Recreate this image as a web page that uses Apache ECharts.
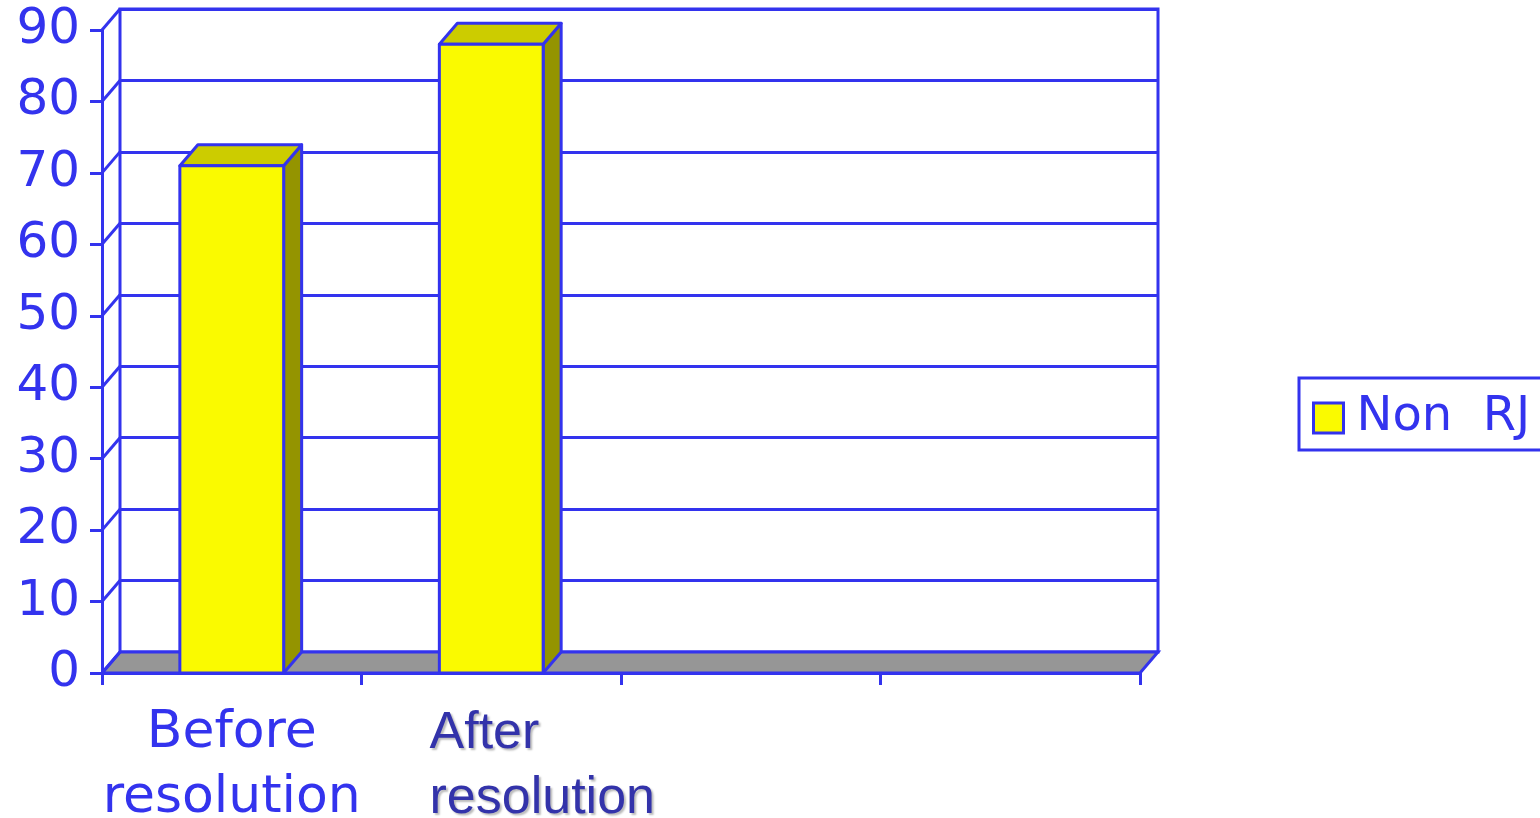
<!DOCTYPE html>
<html>
<head>
<meta charset="utf-8">
<script src="https://cdn.jsdelivr.net/npm/echarts@6/dist/echarts.min.js"></script>
<style>
html, body { margin: 0; padding: 0; background: #fff; }
#chart { width: 1540px; height: 818px; }
</style>
</head>
<body>
<div id="chart"></div>
<script>
// chart data
const categories = ['Before\nresolution', 'After\nresolution', '', ''];
const nonRJ = [71, 88];
const yTicks = [0, 10, 20, 30, 40, 50, 60, 70, 80, 90];
const seriesName = 'Non  RJ';

const BLUE = '#3333ee';
const LW = 3;
const DX = 18, DY = -21; // depth of the fake 3d box

const chart = echarts.init(document.getElementById('chart'));

function renderWall(params, api) {
    const cs = params.coordSys;
    const v = api.value(1);
    const y = api.coord([0, v])[1];
    const children = [];
    if (v === 0) {
        children.push({
            type: 'polygon',
            shape: { points: [[cs.x, y], [cs.x + cs.width, y], [cs.x + cs.width + DX, y + DY], [cs.x + DX, y + DY]] },
            style: { fill: '#969696', stroke: BLUE, lineWidth: LW }
        });
    }
    children.push({
        type: 'line',
        shape: { x1: cs.x, y1: y, x2: cs.x + DX, y2: y + DY },
        style: { stroke: BLUE, lineWidth: LW }
    });
    return { type: 'group', children: children };
}

function renderBar(params, api) {
    const i = api.value(0);
    const top = api.coord([i, api.value(1)]);
    const base = api.coord([i, 0]);
    const w = api.size([1, 0])[0] * 0.4;
    const x0 = top[0] - w / 2, x1 = top[0] + w / 2;
    const yt = top[1], yb = base[1];
    const st = { stroke: BLUE, lineWidth: LW, lineJoin: 'round' };
    return {
        type: 'group',
        children: [
            { type: 'polygon', shape: { points: [[x1, yt], [x1 + DX, yt + DY], [x1 + DX, yb + DY], [x1, yb]] },
              style: Object.assign({ fill: '#949400' }, st) },
            { type: 'polygon', shape: { points: [[x0, yt], [x0 + DX, yt + DY], [x1 + DX, yt + DY], [x1, yt]] },
              style: Object.assign({ fill: '#cccc00' }, st) },
            { type: 'rect', shape: { x: x0, y: yt, width: w, height: yb - yt },
              style: Object.assign({ fill: '#fafa00' }, st) }
        ]
    };
}

const option = {
    animation: false,
    backgroundColor: '#fff',
    grid: [
        { left: 102, top: 30, width: 1038, height: 643, outerBoundsMode: 'none', containLabel: false },
        { left: 102 + DX, top: 30 + DY, width: 1038, height: 643, outerBoundsMode: 'none', containLabel: false,
          show: true, borderColor: BLUE, borderWidth: LW, backgroundColor: 'transparent' }
    ],
    xAxis: [
        {
            type: 'category', gridIndex: 0, data: categories,
            axisLine: { lineStyle: { color: BLUE, width: LW } },
            axisTick: { show: true, length: 12, lineStyle: { color: BLUE, width: LW } },
            axisLabel: {
                margin: 28, interval: 0,
                formatter: function (val, idx) {
                    if (!val) return '';
                    const lines = val.split('\n');
                    const key = idx === 1 ? 'b' : 'a';
                    return lines.map(function (l) { return '{' + key + '|' + l + '}'; }).join('\n');
                },
                rich: {
                    a: { fontFamily: 'DejaVu Sans', fontSize: 52, color: BLUE, lineHeight: 65 },
                    b: { fontFamily: 'Liberation Sans', fontSize: 52, color: '#3333aa', lineHeight: 65, align: 'left',
                         padding: [0, 0, 0, 102], textShadowColor: '#bbbbbb', textShadowOffsetX: 2, textShadowOffsetY: 2, textShadowBlur: 2 }
                }
            }
        },
        { type: 'category', gridIndex: 1, data: categories, show: false }
    ],
    yAxis: [
        {
            type: 'value', gridIndex: 0, min: 0, max: 90, interval: 10,
            axisLine: { show: true, lineStyle: { color: BLUE, width: LW } },
            axisTick: { show: true, length: 12, lineStyle: { color: BLUE, width: LW } },
            axisLabel: { margin: 22, fontFamily: 'DejaVu Sans', fontSize: 50, color: BLUE },
            splitLine: { show: false }
        },
        {
            type: 'value', gridIndex: 1, min: 0, max: 90, interval: 10,
            axisLine: { show: false }, axisTick: { show: false }, axisLabel: { show: false },
            splitLine: { show: true, lineStyle: { color: BLUE, width: LW } }
        }
    ],
    legend: {
        data: [seriesName],
        left: 1299, top: 378,
        padding: [16, 20, 8, 13],
        borderColor: BLUE, borderWidth: LW,
        icon: 'rect', itemWidth: 30, itemHeight: 30, itemGap: 10,
        itemStyle: { color: '#fafa00', borderColor: BLUE, borderWidth: LW },
        textStyle: { fontFamily: 'DejaVu Sans', fontSize: 48, color: BLUE, padding: [0, 0, 0, 8] }
    },
    series: [
        {
            type: 'custom', xAxisIndex: 0, yAxisIndex: 0, clip: false, silent: true,
            renderItem: renderWall,
            data: yTicks.map(function (v) { return [0, v]; }),
            z: 1
        },
        {
            name: seriesName, type: 'custom', xAxisIndex: 0, yAxisIndex: 0, clip: false,
            itemStyle: { color: '#fafa00', borderColor: BLUE, borderWidth: LW },
            renderItem: renderBar,
            data: nonRJ.map(function (v, i) { return [i, v]; }),
            z: 2
        }
    ]
};

chart.setOption(option);
</script>
</body>
</html>
